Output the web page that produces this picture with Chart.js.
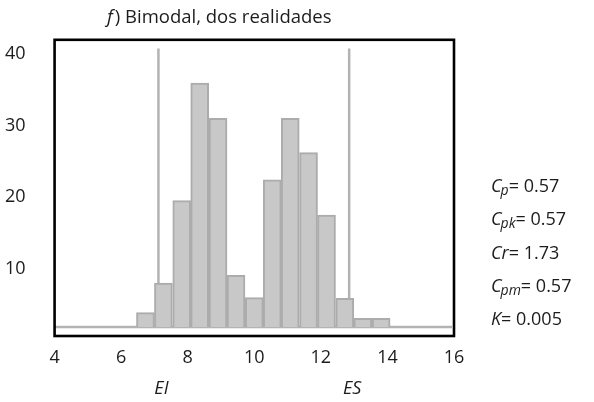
<!DOCTYPE html>
<html>
<head>
<meta charset="utf-8">
<script src="https://cdn.jsdelivr.net/npm/chart.js@4/dist/chart.umd.min.js"></script>
<style>
  html, body { margin: 0; padding: 0; background: #fff; }
  #wrap { position: relative; width: 594px; height: 402px; }
</style>
</head>
<body>
<div id="wrap"><canvas id="c" width="594" height="402"></canvas></div>
<script>
// ---- data ----
const binCenters = [6.73, 7.27, 7.82, 8.36, 8.91, 9.45, 10.00, 10.54, 11.08, 11.63, 12.17, 12.72, 13.26, 13.81];
const counts     = [3.9, 8.0, 19.5, 35.9, 31.0, 9.1, 6.0, 22.4, 31.0, 26.2, 17.5, 5.9, 3.1, 3.1];
const histBase   = 1.88;
const specLimits = [7.12, 12.85];          // EI, ES
const specLabels = ['EI', 'ES'];
const specTop    = 40.7;
const xTicks     = [4, 6, 8, 10, 12, 14, 16];
const yTicks     = [10, 20, 30, 40];
const titleItalic = 'f';
const titleRest   = ') Bimodal, dos realidades';
const stats = [
  { main: 'C',  sub: 'p',  rest: '= 0.57' },
  { main: 'C',  sub: 'pk', rest: '= 0.57' },
  { main: 'Cr', sub: '',   rest: '= 1.73' },
  { main: 'C',  sub: 'pm', rest: '= 0.57' },
  { main: 'K',  sub: '',   rest: '= 0.005' }
];

const FONT = '"Open Sans", "Noto Sans", sans-serif';
const GRAY_LINE = '#b3b3b3';
const TEXT = '#1c1c1c';

const datasets = [
  {
    type: 'bar',
    data: binCenters.map((x, i) => ({ x: x, y: counts[i] })),
    base: histBase,
    backgroundColor: '#c8c8c8',
    borderColor: '#acacac',
    borderWidth: 2,
    borderSkipped: 'start',
    barPercentage: 1,
    categoryPercentage: 1,
    order: 0
  },
  {
    type: 'line',
    data: [{ x: xTicks[0], y: histBase }, { x: xTicks[xTicks.length - 1] - 0.06, y: histBase }],
    borderColor: GRAY_LINE,
    borderWidth: 2.5,
    pointRadius: 0,
    order: 2
  }
];
specLimits.forEach(v => {
  datasets.push({
    type: 'line',
    data: [{ x: v, y: histBase }, { x: v, y: specTop }],
    borderColor: GRAY_LINE,
    borderWidth: 2.5,
    pointRadius: 0,
    order: 1
  });
});

const overlay = {
  id: 'overlay',
  afterDatasetsDraw(chart) {
    const ctx = chart.ctx;
    const a = chart.chartArea;
    const xs = chart.scales.x;
    ctx.save();
    // frame
    ctx.strokeStyle = '#000';
    ctx.lineWidth = 2.6;
    ctx.strokeRect(a.left, a.top, a.right - a.left, a.bottom - a.top);

    ctx.fillStyle = TEXT;
    ctx.textBaseline = 'middle';
    // title
    ctx.textAlign = 'left';
    ctx.font = 'italic 18.5px ' + FONT;
    let tx = 107;
    ctx.fillText(titleItalic, tx, 17.5);
    tx += ctx.measureText(titleItalic).width + 2;
    ctx.font = '18.5px ' + FONT;
    ctx.fillText(titleRest, tx, 17.5);

    // EI / ES labels
    ctx.font = 'italic 18px ' + FONT;
    ctx.textAlign = 'center';
    specLimits.forEach((v, i) => {
      ctx.fillText(specLabels[i], xs.getPixelForValue(v) + 3, 389);
    });

    // stats
    ctx.textAlign = 'left';
    stats.forEach((s, i) => {
      const y = 187 + i * 33.2;
      let x = 491;
      ctx.font = 'italic 18px ' + FONT;
      ctx.fillText(s.main, x, y);
      x += ctx.measureText(s.main).width;
      if (s.sub) {
        ctx.font = 'italic 14px ' + FONT;
        ctx.fillText(s.sub, x - 1, y + 4);
        x += ctx.measureText(s.sub).width - 1;
      }
      ctx.font = '18px ' + FONT;
      ctx.fillText(s.rest, x, y);
    });
    ctx.restore();
  }
};

new Chart(document.getElementById('c'), {
  type: 'bar',
  data: { datasets: datasets },
  options: {
    responsive: false,
    animation: false,
    devicePixelRatio: 1,
    layout: { padding: { left: -24, right: 140, top: 36, bottom: 0 } },
    plugins: { legend: { display: false }, tooltip: { enabled: false }, title: { display: false } },
    scales: {
      x: {
        type: 'linear',
        min: 4, max: 16,
        offset: false,
        grid: { display: false, drawTicks: false },
        border: { display: false },
        afterBuildTicks: s => { s.ticks = xTicks.map(v => ({ value: v })); },
        afterFit: s => { s.height = 66; },
        ticks: { color: TEXT, font: { family: FONT, size: 18 }, padding: 11, maxRotation: 0, autoSkip: false }
      },
      y: {
        type: 'linear',
        min: 0.64, max: 41.93,
        grid: { display: false, drawTicks: false },
        border: { display: false },
        afterBuildTicks: s => { s.ticks = yTicks.map(v => ({ value: v })); },
        ticks: { color: TEXT, font: { family: FONT, size: 18 }, crossAlign: 'near', padding: 29 }
      }
    }
  },
  plugins: [overlay]
});
</script>
</body>
</html>
